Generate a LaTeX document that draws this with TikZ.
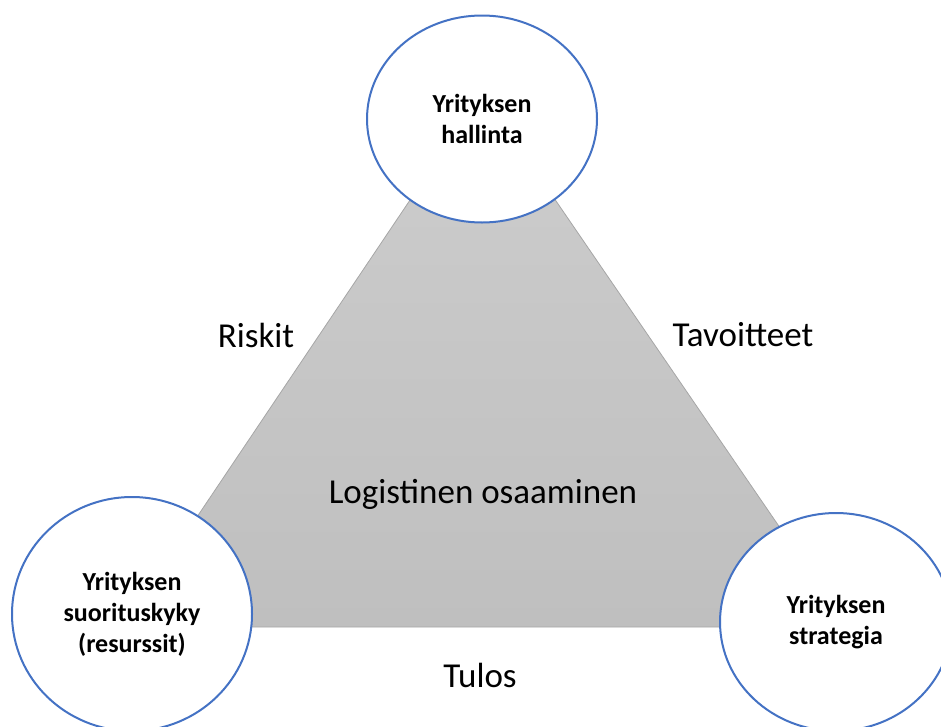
\documentclass[tikz,border=0pt]{standalone}
\usepackage{fontspec}
\setmainfont{Carlito}
\usetikzlibrary{shapes.geometric}
\definecolor{circblue}{HTML}{4472C4}
\definecolor{triedge}{HTML}{A6A6A6}
\definecolor{tritop}{HTML}{CDCDCD}
\definecolor{tribot}{HTML}{BFBFBF}
\tikzset{
  circnode/.style={ellipse, draw=circblue, line width=2pt, fill=white, inner sep=0pt,
    align=center, font=\fontsize{26}{31}\selectfont\bfseries},
  edgelabel/.style={font=\fontsize{35}{42}\selectfont, inner sep=0pt}
}
\begin{document}
\begin{tikzpicture}[x=1pt,y=-1pt]
\useasboundingbox (0,0) rectangle (941,726);
\coordinate (apex) at (482,93);
\coordinate (bl) at (123,627);
\coordinate (br) at (848,627);
\shade[top color=tritop, bottom color=tribot] (apex) -- (bl) -- (br) -- cycle;
\draw[triedge, line width=0.8pt] (apex) -- (bl) -- (br) -- cycle;
\node[circnode, minimum width=230pt, minimum height=207pt] (top) at (482,119) {Yrityksen\\hallinta};
\node[circnode, minimum width=240pt, minimum height=234pt] (left) at (132,614) {Yrityksen\\suorituskyky\\(resurssit)};
\node[circnode, minimum width=232pt, minimum height=218pt] (right) at (836,622) {Yrityksen\\strategia};
\node[edgelabel] (riskit) at (256,335) {Riskit};
\node[edgelabel] (tavo) at (743,335) {Tavoitteet};
\node[edgelabel] (logi) at (483,494) {Logistinen osaaminen};
\node[edgelabel] (tulos) at (480,675) {Tulos};
\end{tikzpicture}
\end{document}
